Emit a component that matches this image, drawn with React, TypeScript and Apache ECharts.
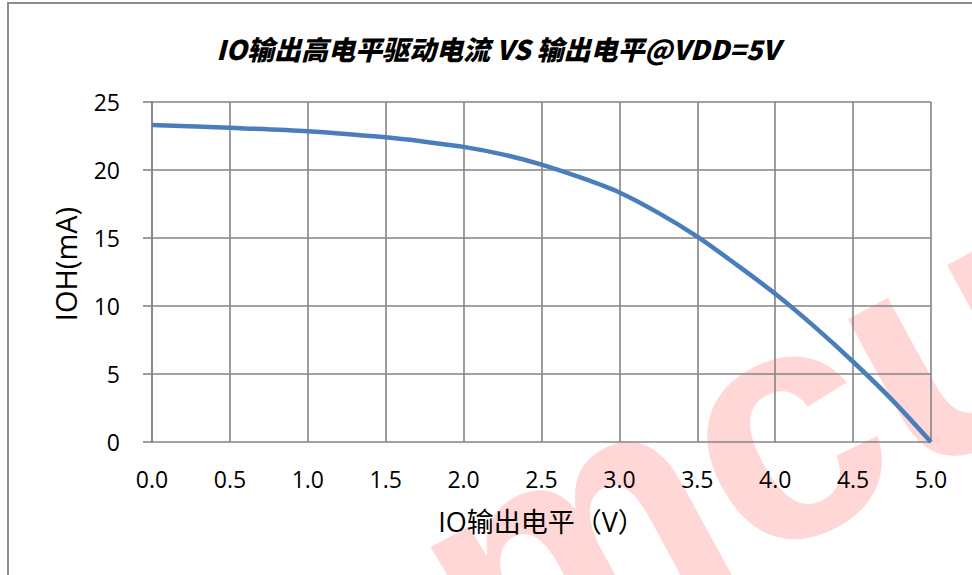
import React, { useEffect, useRef } from "react";
import * as echarts from "echarts";

const titleText = "IO输出高电平驱动电流 VS 输出电平@VDD=5V";
const xAxisName = "IO输出电平（V）";
const yAxisName = "IOH(mA)";
const voltages = [0.0, 0.5, 1.0, 1.5, 1.75, 2.0, 2.25, 2.5, 2.75, 3.0, 3.25, 3.5, 3.75, 4.0, 4.25, 4.5, 4.75, 5.0];
const currents = [23.3, 23.1, 22.85, 22.4, 22.08, 21.7, 21.15, 20.4, 19.45, 18.35, 16.85, 15.1, 13.05, 10.9, 8.5, 5.9, 3.1, 0];
const watermarkText = "mcu";

export default function App() {
  const ref = useRef<HTMLDivElement>(null);
  useEffect(() => {
    if (!ref.current) return;
    const chart = echarts.init(ref.current, null, { renderer: "svg" });
    const font = "'Open Sans', 'Noto Sans CJK SC', sans-serif";
    chart.setOption({
      animation: false,
      backgroundColor: "#ffffff",
      title: {
        text: titleText,
        left: 493,
        top: 30,
        textAlign: "center",
        textStyle: {
          fontFamily: "'Noto Sans CJK SC', sans-serif",
          fontSize: 27,
          fontWeight: 900,
          fontStyle: "italic",
          color: "#000",
        },
      },
      graphic: [
        {
          type: "text",
          z: -10,
          x: 519,
          y: 755,
          rotation: 0.5,
          silent: true,
          style: {
            text: watermarkText,
            font: "bold 330px 'Liberation Sans', Arial, sans-serif",
            fill: "rgba(255, 40, 40, 0.19)",
            textAlign: "left",
            textVerticalAlign: "bottom",
          },
        },
        {
          type: "rect",
          z: 100,
          shape: { x: 8, y: 3, width: 1000, height: 700 },
          style: { fill: "none", stroke: "#8c8c8c", lineWidth: 2 },
        },
      ],
      grid: { left: 152, right: 41, top: 102, bottom: 133, containLabel: false },
      xAxis: {
        type: "value",
        min: 0,
        max: 5,
        interval: 0.5,
        name: xAxisName,
        nameLocation: "middle",
        nameGap: 66,
        nameTextStyle: { fontFamily: font, fontSize: 27, color: "#000" },
        axisLine: { show: false },
        axisTick: { show: false },
        axisLabel: {
          margin: 25,
          fontFamily: font,
          fontSize: 23,
          color: "#000",
          formatter: (v: number) => v.toFixed(1),
        },
        splitLine: { show: true, lineStyle: { color: "#848484", width: 1.6 } },
      },
      yAxis: {
        type: "value",
        min: 0,
        max: 25,
        interval: 5,
        name: yAxisName,
        nameLocation: "middle",
        nameGap: 72,
        nameTextStyle: { fontFamily: font, fontSize: 29, color: "#000", padding: [0, 0, 0, 16] },
        axisLine: { show: true, lineStyle: { color: "#848484", width: 1.6 } },
        axisTick: { show: true, length: 9, lineStyle: { color: "#848484", width: 1.6 } },
        axisLabel: { margin: 32, fontFamily: font, fontSize: 23, color: "#000" },
        splitLine: { show: true, lineStyle: { color: "#848484", width: 1.6 } },
      },
      series: [
        {
          type: "line",
          data: voltages.map((v, i) => [v, currents[i]]),
          smooth: 0.3,
          showSymbol: false,
          symbol: "none",
          lineStyle: { color: "#4a7ebb", width: 4.5 },
        },
      ],
    });
    return () => chart.dispose();
  }, []);
  return (
    <div
      ref={ref}
      style={{ position: "fixed", left: 0, top: 0, width: 972, height: 575 }}
    />
  );
}
